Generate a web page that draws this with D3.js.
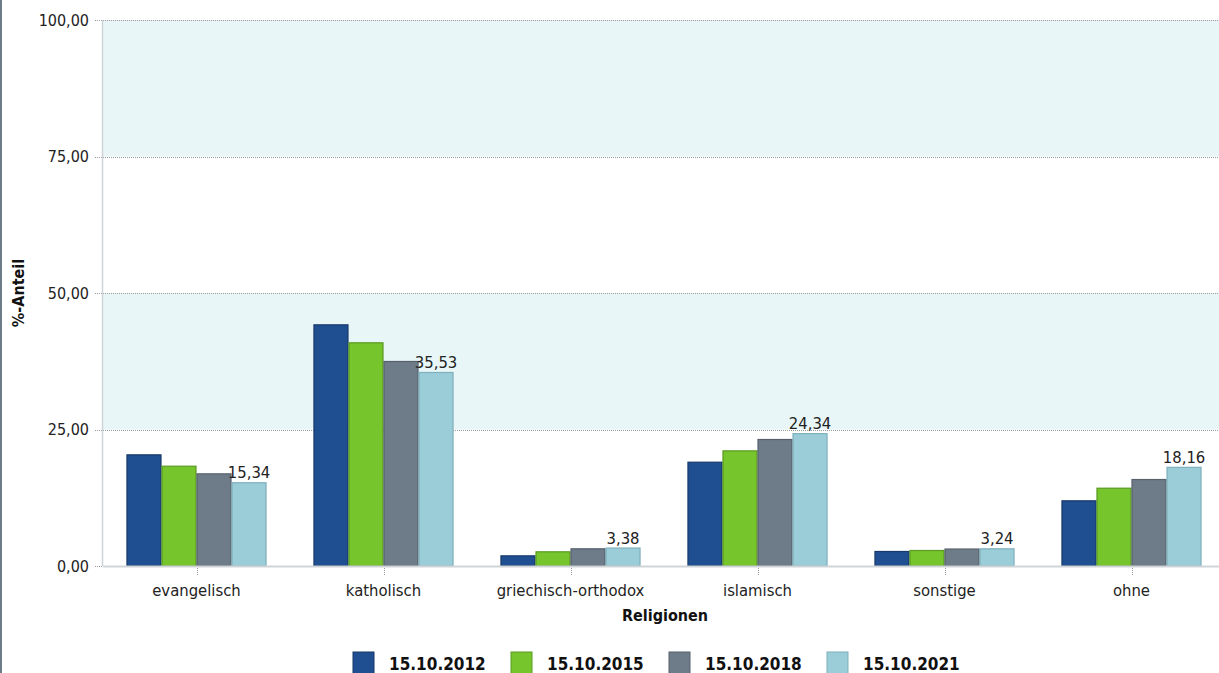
<!DOCTYPE html>
<html><head><meta charset="utf-8">
<script src="https://cdn.jsdelivr.net/npm/d3@7"></script>
<style>
body{margin:0;background:#fff;}
svg{display:block;font-family:Tahoma,"DejaVu Sans Condensed","DejaVu Sans",sans-serif;}
</style></head><body>
<svg id="c" width="1219" height="673"></svg>
<script>
const categories = ["evangelisch","katholisch","griechisch-orthodox","islamisch","sonstige","ohne"];
const seriesNames = ["15.10.2012","15.10.2015","15.10.2018","15.10.2021"];
const v2012 = [20.45, 44.26, 1.95, 19.10, 2.75, 12.03];
const v2015 = [18.37, 40.97, 2.69, 21.18, 2.93, 14.34];
const v2018 = [16.97, 37.55, 3.24, 23.26, 3.20, 15.93];
const v2021 = [15.34, 35.53, 3.38, 24.34, 3.24, 18.16];
const yTicks = [0, 25, 50, 75, 100];
const colors = ["#1f4e91","#76c52d","#6e7c89","#9acdd8"];
const strokes = ["#17396b","#5a9a22","#56616c","#7fb0bc"];

const series = [v2012, v2015, v2018, v2021];
const svg = d3.select("#c");
const pL = 103, pR = 1225, pT = 20, pB = 566;

const x = d3.scaleBand().domain(categories).range([pL, pR]).paddingInner(0).paddingOuter(0);
const xs = d3.scaleBand().domain(seriesNames).range([0, x.bandwidth()]).paddingInner(0).paddingOuter(0.67);
const y = d3.scaleLinear().domain([0, 100]).range([pB, pT]);

// left border strip
svg.append("rect").attr("x",0).attr("y",0).attr("width",2).attr("height",673).attr("fill","#6e7c89");

// bands
[[75,100],[25,50]].forEach(([a,b])=>{
  svg.append("rect").attr("x",pL).attr("y",y(b)).attr("width",pR-pL).attr("height",y(a)-y(b)).attr("fill","#e8f6f8");
});

// gridlines
const gridTicks = yTicks.filter(t=>t>0);
svg.append("g").selectAll("line").data(gridTicks).join("line")
  .attr("x1",pL-8).attr("x2",pR).attr("y1",d=>Math.round(y(d))+0.5).attr("y2",d=>Math.round(y(d))+0.5)
  .attr("stroke","#9a9a9a").attr("stroke-dasharray","1,1");
svg.append("line").attr("x1",pL-8).attr("x2",pL).attr("y1",pB+0.5).attr("y2",pB+0.5)
  .attr("stroke","#9a9a9a").attr("stroke-dasharray","1,1");

// y axis line
svg.append("line").attr("x1",pL-0.5).attr("x2",pL-0.5).attr("y1",pT).attr("y2",pB)
  .attr("stroke","#cfd4d8").attr("stroke-width",1.5);

// y tick labels
const fmt = d => d.toFixed(2).replace(".",",");
svg.append("g").selectAll("text").data(yTicks).join("text")
  .attr("x",89).attr("y",d=>y(d)).attr("dy","0.35em").attr("text-anchor","end")
  .attr("font-size",16).attr("fill","#222").text(fmt);

// bars
const g = svg.append("g");
series.forEach((vals,si)=>{
  g.selectAll(null).data(vals).join("rect")
    .attr("x",(d,i)=>x(categories[i])+xs(seriesNames[si])+0.5)
    .attr("y",d=>y(d)+0.5)
    .attr("width",xs.bandwidth()-1)
    .attr("height",d=>pB-y(d)-0.5)
    .attr("fill",colors[si]).attr("stroke",strokes[si]).attr("stroke-width",1.2);
});

// baseline
svg.append("line").attr("x1",pL).attr("x2",pR).attr("y1",pB+0.5).attr("y2",pB+0.5)
  .attr("stroke","#cfd4d8").attr("stroke-width",2);

// x ticks
svg.append("g").selectAll("line").data(categories).join("line")
  .attr("x1",d=>Math.round(x(d)+x.bandwidth()/2)+0.5).attr("x2",d=>Math.round(x(d)+x.bandwidth()/2)+0.5)
  .attr("y1",pB+2).attr("y2",pB+10).attr("stroke","#9a9a9a").attr("stroke-dasharray","1,1");

// x labels
svg.append("g").selectAll("text").data(categories).join("text")
  .attr("x",d=>x(d)+x.bandwidth()/2).attr("y",596).attr("text-anchor","middle")
  .attr("font-size",16.5).attr("fill","#222").text(d=>d);

// data labels for last series
svg.append("g").selectAll("text").data(v2021).join("text")
  .attr("x",(d,i)=>x(categories[i])+xs(seriesNames[3])+xs.bandwidth()/2)
  .attr("y",d=>y(d)-4).attr("text-anchor","middle")
  .attr("font-size",16.5).attr("fill","#222").text(d=>fmt(d));

// axis titles
svg.append("text").attr("x",665).attr("y",621).attr("text-anchor","middle")
  .attr("font-size",16).attr("font-weight","bold").attr("fill","#111").text("Religionen");
svg.append("text").attr("transform",`translate(24,${(pT+pB)/2}) rotate(-90)`).attr("text-anchor","middle")
  .attr("font-size",16).attr("font-weight","bold").attr("fill","#111").text("%-Anteil");

// legend
const legX = [353, 511, 669, 827];
const lg = svg.append("g");
seriesNames.forEach((s,i)=>{
  lg.append("rect").attr("x",legX[i]).attr("y",652).attr("width",21).attr("height",22)
    .attr("fill",colors[i]).attr("stroke",strokes[i]);
  lg.append("text").attr("x",legX[i]+36).attr("y",670).attr("font-size",17).attr("font-weight","bold")
    .attr("fill","#111").text(s);
});
</script>
</body></html>
